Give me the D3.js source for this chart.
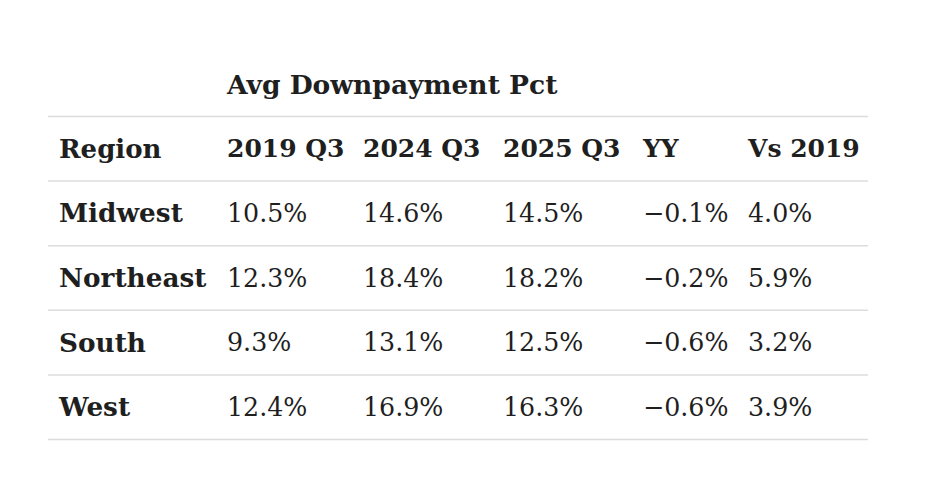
<!DOCTYPE html>
<html>
<head>
<meta charset="utf-8">
<script src="https://cdn.jsdelivr.net/npm/d3@7"></script>
<style>
  body { margin: 0; background: #fff; }
  text { font-family: "DejaVu Serif", serif; fill: #1f1f1f; }
</style>
</head>
<body>
<div id="table-container"></div>
<script>
// table data
const groupTitle = "Avg Downpayment Pct";
const columns = ["Region", "2019 Q3", "2024 Q3", "2025 Q3", "YY", "Vs 2019"];
const regions = ["Midwest", "Northeast", "South", "West"];
const pct2019 = [10.5, 12.3, 9.3, 12.4];
const pct2024 = [14.6, 18.4, 13.1, 16.9];
const pct2025 = [14.5, 18.2, 12.5, 16.3];
const yy = [-0.1, -0.2, -0.6, -0.6];
const vs2019 = [4.0, 5.9, 3.2, 3.9];

let width = 930, height = 482;
let colX = [59, 227, 363, 503, 643, 748];   // left edge of each column
let lineLeft = 48, lineRight = 868;

let svg = d3.select("#table-container").append("svg")
  .attr("width", width)
  .attr("height", height);

let rows = ["header"].concat(regions);

let yScale = d3.scaleBand()
  .domain(rows)
  .range([116, 439])
  .padding(0);

let fmt = v => (v < 0 ? "\u2212" + Math.abs(v).toFixed(1) : v.toFixed(1)) + "%";

// group title
svg.append("text")
  .attr("x", colX[1])
  .attr("y", 84)
  .attr("dy", "0.36em")
  .style("font-size", "26.5px")
  .style("font-weight", "bold")
  .text(groupTitle);

// rule lines
svg.selectAll(".rule")
  .data(rows.map(r => yScale(r)).concat([439]))
  .enter().append("line")
    .classed("rule", true)
    .attr("x1", lineLeft)
    .attr("x2", lineRight)
    .attr("y1", d => d + 0.5)
    .attr("y2", d => d + 0.5)
    .attr("stroke", "#dcdcdc")
    .attr("stroke-width", 1.5);

// header row
svg.selectAll(".col-head")
  .data(columns)
  .enter().append("text")
    .classed("col-head", true)
    .attr("x", (d, i) => colX[i])
    .attr("y", yScale("header") + yScale.bandwidth() / 2)
    .attr("dy", "0.36em")
    .style("font-size", (d, i) => i === 0 ? "26px" : "25px")
    .style("font-weight", "bold")
    .text(d => d);

// body rows
let tableRows = regions.map((r, i) => [r, fmt(pct2019[i]), fmt(pct2024[i]), fmt(pct2025[i]), fmt(yy[i]), fmt(vs2019[i])]);

let rowG = svg.selectAll(".row")
  .data(tableRows)
  .enter().append("g")
    .classed("row", true)
    .attr("transform", (d, i) => `translate(0, ${yScale(regions[i]) + yScale.bandwidth() / 2})`);

rowG.selectAll("text")
  .data(d => d)
  .enter().append("text")
    .attr("x", (d, i) => colX[i])
    .attr("dy", "0.36em")
    .style("font-size", (d, i) => i === 0 ? "26.3px" : "25.3px")
    .style("font-weight", (d, i) => i === 0 ? "bold" : "normal")
    .text(d => d);
</script>
</body>
</html>
